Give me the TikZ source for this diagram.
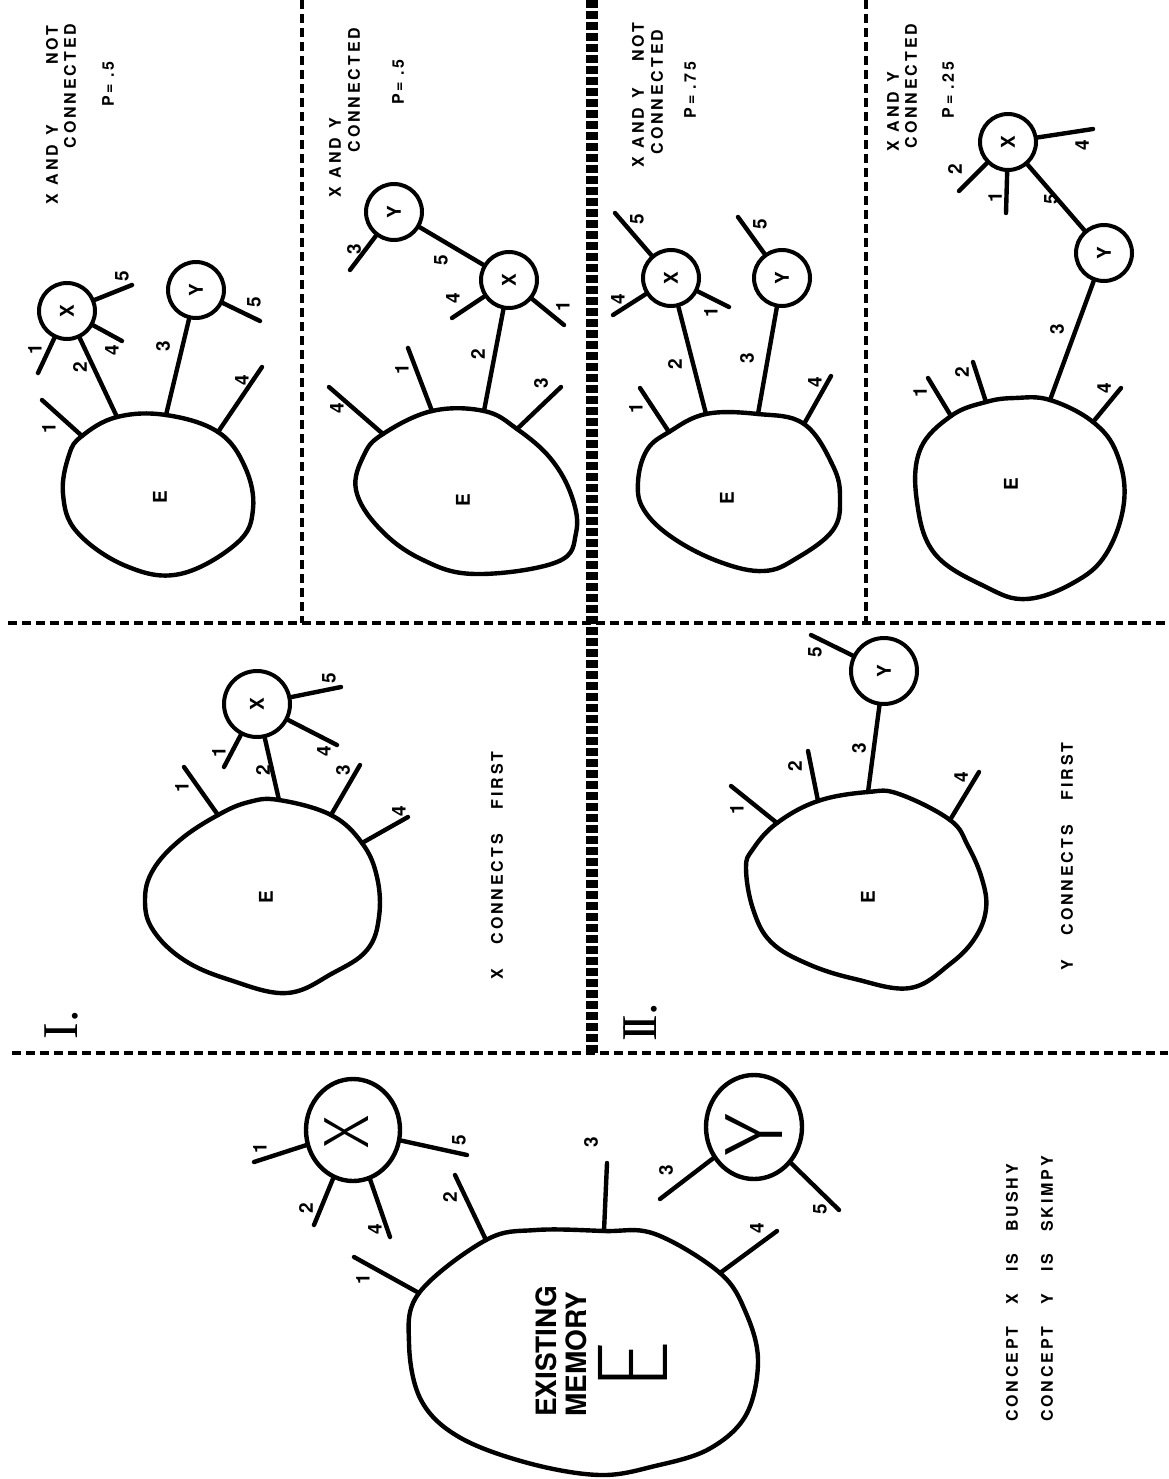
\documentclass[tikz,border=0pt]{standalone}
\usepackage{fontspec}
\usetikzlibrary{shapes.geometric}
\setmainfont{TeX Gyre Heros}
\newfontfamily\labf[LetterSpace=18]{TeX Gyre Heros}
\newfontfamily\plainf{TeX Gyre Heros}
\newfontfamily\romf{Liberation Serif}
\IfFontExistsTF{Fira Sans Light}{\newfontfamily\lightf{Fira Sans Light}}{\newfontfamily\lightf{TeX Gyre Heros}}
\IfFontExistsTF{Fira Sans ExtraLight}{\newfontfamily\xlightf{Fira Sans ExtraLight}}{\let\xlightf\lightf}
\newcommand\gap[1]{\hspace*{#1}}
\tikzset{
  blob/.style={line width=4.4pt, line join=round},
  stalk/.style={line width=4.4pt, line cap=round},
  divline/.style={line width=3.8pt, dash pattern=on 9pt off 5pt},
  divthick/.style={line width=12pt, dash pattern=on 8pt off 3pt},
  conc/.style={circle, draw, line width=4pt, minimum size=56pt, inner sep=0pt, rotate=90, font=\plainf\bfseries\fontsize{19}{19}\selectfont},
  bigconc/.style={ellipse, draw, line width=4.4pt, minimum width=94pt, minimum height=102pt, inner sep=0pt},
  num/.style={rotate=90, inner sep=0pt, font=\plainf\bfseries\fontsize{19}{19}\selectfont},
  elab/.style={rotate=90, inner sep=0pt, font=\plainf\bfseries\fontsize{19}{19}\selectfont},
  ttl/.style={rotate=90, inner sep=0pt, font=\labf\bfseries\fontsize{16}{16}\selectfont},
  bigtxt/.style={rotate=90, inner sep=0pt, font=\plainf\bfseries\fontsize{28}{28}\selectfont},
  roman/.style={rotate=90, inner sep=0pt, font=\romf\fontsize{50}{50}\selectfont},
  biglet/.style={rotate=90, inner sep=0pt, font=\lightf\fontsize{64}{64}\selectfont},
}
\begin{document}
\begin{tikzpicture}[x=1pt,y=-1pt]
\useasboundingbox (0,0) rectangle (1168,1479);

% ---------- dividers ----------
\draw[divline] (302,0) -- (302,623);
\draw[divline] (866,0) -- (866,623);
\draw[divline] (8,623) -- (1168,623);
\draw[divline] (12,1053) -- (1168,1053);
\draw[divthick] (592,0) -- (592,1053);

% ---------- Panel A : X and Y not connected, p=.5 ----------
\node[ttl] (tA1) at (52,165) {X\gap{9pt}AND\gap{9pt}Y};
\node[ttl] (tA2) at (52,45) {NOT};
\node[ttl] (tA3) at (70,86) {CONNECTED};
\node[ttl] (tA4) at (108,84) {P=\gap{6pt}.5};
\draw[blob] plot[smooth cycle, tension=0.65] coordinates {(82,436) (117,417) (166,415) (218,432) (245,467) (253,509) (237,543) (180,574) (126,566) (77,532) (63,494) (69,455)};
\node[elab] (EA) at (160,497) {E};
\coordinate (a1) at (82,436);  \coordinate (a1e) at (42,400);
\coordinate (a2) at (117,417);
\coordinate (a3) at (166,415);
\coordinate (a4) at (218,432); \coordinate (a4e) at (262,367);
\node[conc] (XA) at (67,311) {X};
\node[conc] (YA) at (196,290) {Y};
\coordinate (xa1) at (38,373); \coordinate (xa4) at (122,341); \coordinate (xa5) at (132,285);
\coordinate (ya5) at (260,321);
\draw[stalk] (a1) -- (a1e);
\draw[stalk] (a2) -- (XA);
\draw[stalk] (a3) -- (YA);
\draw[stalk] (a4) -- (a4e);
\draw[stalk] (XA) -- (xa1);
\draw[stalk] (XA) -- (xa4);
\draw[stalk] (XA) -- (xa5);
\draw[stalk] (YA) -- (ya5);
\node[num] (nA1) at (49,428) {1};
\node[num] (nA2) at (80,367) {2};
\node[num] (nA3) at (163,346) {3};
\node[num] (nA4) at (242,380) {4};
\node[num] (nXA1) at (35,349) {1};
\node[num] (nXA4) at (112,350) {4};
\node[num] (nXA5) at (122,276) {5};
\node[num] (nYA5) at (254,302) {5};

% ---------- Panel B : X and Y connected, p=.5 ----------
\node[ttl] (tB1) at (335,158) {X\gap{9pt}AND\gap{9pt}Y};
\node[ttl] (tB2) at (354,90) {CONNECTED};
\node[ttl] (tB3) at (398,82) {P=\gap{6pt}.5};
\draw[blob] plot[smooth cycle, tension=0.65] coordinates {(383,434) (432,411) (484,411) (517,429) (551,459) (572,497) (576,533) (557,562) (475,574) (421,559) (379,528) (356,490) (364,455)};
\node[elab] (EB) at (463,500) {E};
\coordinate (b4) at (383,434); \coordinate (b4e) at (329,387);
\coordinate (b1) at (432,411); \coordinate (b1e) at (408,348);
\coordinate (b2) at (484,411);
\coordinate (b3) at (517,429); \coordinate (b3e) at (561,387);
\node[conc] (XB) at (509,280) {X};
\node[conc] (YB) at (394,212) {Y};
\coordinate (yb3) at (350,270);
\coordinate (xb4) at (452,318); \coordinate (xb1) at (564,325);
\draw[stalk] (b4) -- (b4e);
\draw[stalk] (b1) -- (b1e);
\draw[stalk] (b2) -- (XB);
\draw[stalk] (b3) -- (b3e);
\draw[stalk] (YB) -- (XB);
\draw[stalk] (YB) -- (yb3);
\draw[stalk] (XB) -- (xb4);
\draw[stalk] (XB) -- (xb1);
\node[num] (nB4) at (337,408) {4};
\node[num] (nB1) at (402,369) {1};
\node[num] (nB2) at (478,354) {2};
\node[num] (nB3) at (541,383) {3};
\node[num] (nYB3) at (354,249) {3};
\node[num] (nB5) at (441,260) {5};
\node[num] (nXB4) at (453,298) {4};
\node[num] (nXB1) at (563,306) {1};

% ---------- Panel C : X and Y not connected, p=.75 ----------
\node[ttl] (tC1) at (638,128) {X\gap{9pt}AND\gap{9pt}Y};
\node[ttl] (tC2) at (638,42) {NOT};
\node[ttl] (tC3) at (657,92) {CONNECTED};
\node[ttl] (tC4) at (690,90) {P=\gap{6pt}.75};
\draw[blob] plot[smooth cycle, tension=0.65] coordinates {(669,432) (706,414) (758,414) (804,424) (833,466) (840,498) (833,530) (797,558) (764,571) (720,562) (673,538) (644,510) (638,482) (647,450)};
\node[elab] (EC) at (727,498) {E};
\coordinate (c1) at (669,432); \coordinate (c1e) at (640,388);
\coordinate (c2) at (706,414);
\coordinate (c3) at (758,414);
\coordinate (c4) at (804,424); \coordinate (c4e) at (831,376);
\node[conc] (XC) at (671,278) {X};
\node[conc] (YC) at (782,278) {Y};
\coordinate (xc5) at (615,213); \coordinate (xc4) at (613,315); \coordinate (xc1) at (729,307);
\coordinate (yc5) at (738,217);
\draw[stalk] (c1) -- (c1e);
\draw[stalk] (c2) -- (XC);
\draw[stalk] (c3) -- (YC);
\draw[stalk] (c4) -- (c4e);
\draw[stalk] (XC) -- (xc5);
\draw[stalk] (XC) -- (xc4);
\draw[stalk] (XC) -- (xc1);
\draw[stalk] (YC) -- (yc5);
\node[num] (nC1) at (636,408) {1};
\node[num] (nC2) at (675,364) {2};
\node[num] (nC3) at (747,358) {3};
\node[num] (nC4) at (815,382) {4};
\node[num] (nXC5) at (637,219) {5};
\node[num] (nXC4) at (618,299) {4};
\node[num] (nXC1) at (711,312) {1};
\node[num] (nYC5) at (760,224) {5};

% ---------- Panel D : X and Y connected, p=.25 ----------
\node[ttl] (tD1) at (893,112) {X\gap{9pt}AND\gap{9pt}Y};
\node[ttl] (tD2) at (911,86) {CONNECTED};
\node[ttl] (tD3) at (948,90) {P=\gap{6pt}.25};
\draw[blob] plot[smooth cycle, tension=0.65] coordinates {(951,416) (986,402) (1015,398) (1050,400) (1093,422) (1117,454) (1124,502) (1106,554) (1073,583) (1026,599) (986,587) (935,554) (917,502) (920,450)};
\node[elab] (ED) at (1011,484) {E};
\coordinate (d1) at (951,416); \coordinate (d1e) at (928,378);
\coordinate (d2) at (986,402); \coordinate (d2e) at (973,362);
\coordinate (d3) at (1050,400);
\coordinate (d4) at (1093,422); \coordinate (d4e) at (1121,388);
\node[conc] (XD) at (1008,142) {X};
\node[conc] (YD) at (1104,253) {Y};
\coordinate (xd2) at (959,191); \coordinate (xd1) at (1006,213); \coordinate (xd4) at (1093,129);
\draw[stalk] (d1) -- (d1e);
\draw[stalk] (d2) -- (d2e);
\draw[stalk] (d3) -- (YD);
\draw[stalk] (d4) -- (d4e);
\draw[stalk] (XD) -- (YD);
\draw[stalk] (XD) -- (xd2);
\draw[stalk] (XD) -- (xd1);
\draw[stalk] (XD) -- (xd4);
\node[num] (nD1) at (920,392) {1};
\node[num] (nD2) at (962,372) {2};
\node[num] (nD3) at (1057,329) {3};
\node[num] (nD4) at (1104,388) {4};
\node[num] (nD5) at (1051,199) {5};
\node[num] (nXD2) at (955,169) {2};
\node[num] (nXD1) at (995,197) {1};
\node[num] (nXD4) at (1082,145) {4};

% ---------- Panel I : X connects first ----------
\node[roman] (rI) at (61,1025) {I.};
\node[ttl, anchor=west] (tI) at (497,980) {X\gap{25pt}CONNECTS\gap{25pt}FIRST};
\draw[blob] plot[smooth cycle, tension=0.65] coordinates {(218,815) (249,802) (279,800) (331,815) (362,843) (377,877) (379,917) (367,950) (333,973) (287,993) (230,980) (184,960) (153,930) (145,900) (153,870) (180,840)};
\node[elab] (EI) at (266,897) {E};
\coordinate (i1) at (218,815); \coordinate (i1e) at (184,767);
\coordinate (i2) at (279,800);
\coordinate (i3) at (331,815); \coordinate (i3e) at (360,765);
\coordinate (i4) at (362,843); \coordinate (i4e) at (408,817);
\node[conc, minimum size=66pt] (XI) at (257,704) {X};
\coordinate (xi1) at (224,767); \coordinate (xi4) at (337,745); \coordinate (xi5) at (341,687);
\draw[stalk] (i1) -- (i1e);
\draw[stalk] (i2) -- (XI);
\draw[stalk] (i3) -- (i3e);
\draw[stalk] (i4) -- (i4e);
\draw[stalk] (XI) -- (xi1);
\draw[stalk] (XI) -- (xi4);
\draw[stalk] (XI) -- (xi5);
\node[num] (nI1) at (182,787) {1};
\node[num] (nI2) at (263,770) {2};
\node[num] (nI3) at (343,770) {3};
\node[num] (nI4) at (399,811) {4};
\node[num] (nXI1) at (219,752) {1};
\node[num] (nXI4) at (324,751) {4};
\node[num] (nXI5) at (329,678) {5};

% ---------- Panel II : Y connects first ----------
\node[roman] (rII) at (640,1022) {I\kern-0.14em I.};
\node[ttl, anchor=west] (tII) at (1067,971) {Y\gap{25pt}CONNECTS\gap{25pt}FIRST};
\draw[blob] plot[smooth cycle, tension=0.65] coordinates {(777,823) (818,801) (868,792) (899,794) (950,820) (968,846) (982,879) (986,909) (975,938) (950,964) (910,988) (855,979) (808,964) (771,942) (753,909) (746,868) (753,849)};
\node[elab] (EII) at (868,897) {E};
\coordinate (j1) at (777,823); \coordinate (j1e) at (731,786);
\coordinate (j2) at (818,801); \coordinate (j2e) at (808,751);
\coordinate (j3) at (868,792);
\coordinate (j4) at (950,820); \coordinate (j4e) at (979,772);
\node[conc, minimum size=66pt] (YII) at (884,671) {Y};
\coordinate (yj5) at (811,635);
\draw[stalk] (j1) -- (j1e);
\draw[stalk] (j2) -- (j2e);
\draw[stalk] (j3) -- (YII);
\draw[stalk] (j4) -- (j4e);
\draw[stalk] (YII) -- (yj5);
\node[num] (nJ1) at (737,809) {1};
\node[num] (nJ2) at (795,766) {2};
\node[num] (nJ3) at (859,748) {3};
\node[num] (nJ4) at (961,777) {4};
\node[num] (nYJ5) at (815,652) {5};

% ---------- Bottom : existing memory ----------
\draw[blob] plot[smooth cycle, tension=0.6] coordinates {(419,1293) (486,1240) (536,1230) (604,1231) (655,1234) (720,1273) (746,1313) (758,1361) (746,1415) (709,1449) (655,1466) (600,1475) (528,1463) (459,1437) (421,1400) (409,1343)};
\node[bigtxt, anchor=west] (tEx) at (546,1417) {EXISTING};
\node[bigtxt, anchor=west] (tMem) at (576,1417) {MEMORY};
\node[rotate=90, inner sep=0pt, font=\xlightf\fontsize{101}{101}\selectfont] (bigE) at (633,1366) {E};
\coordinate (m1) at (419,1293); \coordinate (m1e) at (354,1257);
\coordinate (m2) at (486,1240); \coordinate (m2e) at (455,1175);
\coordinate (m3) at (604,1231); \coordinate (m3e) at (607,1163);
\coordinate (m4) at (720,1273); \coordinate (m4e) at (777,1231);
\node[bigconc] (XM) at (353,1130) {};
\node[biglet] (XMl) at (347,1132) {X};
\node[bigconc, minimum width=96pt, minimum height=104pt] (YM) at (754,1127) {};
\node[biglet, font=\lightf\fontsize{83}{83}\selectfont] (YMl) at (754,1135) {Y};
\coordinate (xm1) at (254,1162); \coordinate (xm2) at (314,1225); \coordinate (xm4) at (390,1237); \coordinate (xm5) at (467,1155);
\coordinate (ym3) at (660,1199); \coordinate (ym5) at (839,1210);
\draw[stalk] (m1) -- (m1e);
\draw[stalk] (m2) -- (m2e);
\draw[stalk] (m3) -- (m3e);
\draw[stalk] (m4) -- (m4e);
\draw[stalk] (XM) -- (xm1);
\draw[stalk] (XM) -- (xm2);
\draw[stalk] (XM) -- (xm4);
\draw[stalk] (XM) -- (xm5);
\draw[stalk] (YM) -- (ym3);
\draw[stalk] (YM) -- (ym5);
\node[num] (nM1) at (363,1279) {1};
\node[num] (nM2) at (450,1197) {2};
\node[num] (nM3) at (591,1142) {3};
\node[num] (nM4) at (757,1228) {4};
\node[num] (nXM1) at (260,1148) {1};
\node[num] (nXM2) at (306,1208) {2};
\node[num] (nXM4) at (375,1229) {4};
\node[num] (nXM5) at (459,1140) {5};
\node[num] (nYM3) at (666,1170) {3};
\node[num] (nYM5) at (820,1209) {5};
\node[ttl, anchor=west] (tBushy) at (1012,1422) {CONCEPT\gap{22pt}X\gap{22pt}IS\gap{22pt}BUSHY};
\node[ttl, anchor=west] (tSkimpy) at (1047,1422) {CONCEPT\gap{22pt}Y\gap{22pt}IS\gap{22pt}SKIMPY};
\end{tikzpicture}
\end{document}
